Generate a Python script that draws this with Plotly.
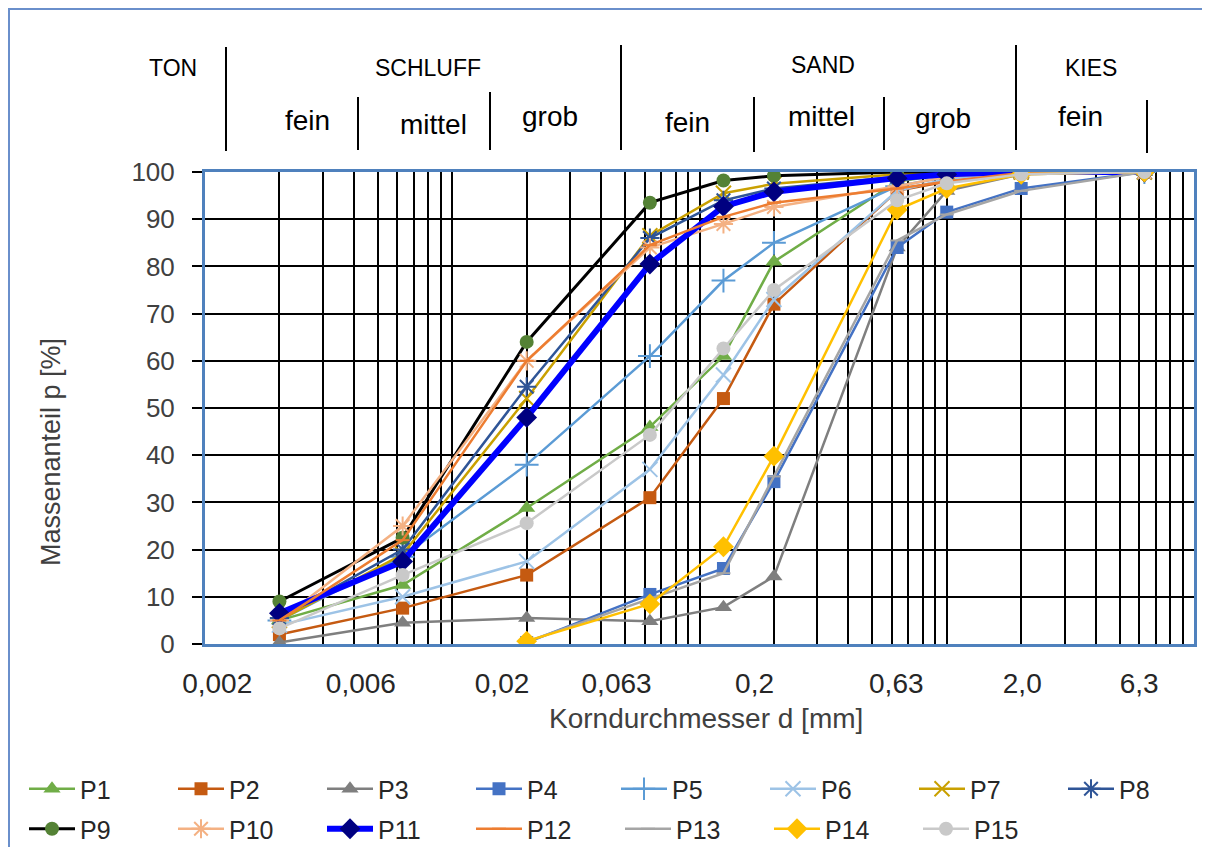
import plotly.graph_objects as go

# ---------------- data ----------------
diameters = [0.002, 0.0063, 0.02, 0.063, 0.125, 0.2, 0.63, 1.0, 2.0, 6.3]

P1 = [5.0, 12.5, 28.8, 46.0, 61.0, 81.0, 98.0, 99.5, 100, 100]
P2 = [2.0, 7.6, 14.6, 31.0, 52.0, 72.0, 96.0, 98.0, 100, 100]
P3 = [0.3, 4.5, 5.5, 4.8, 7.8, 14.3, 84.0, 96.0, 99.5, 100]
P4 = [None, None, 0.3, 10.5, 16.0, 34.4, 84.0, 91.5, 96.5, 100]
P5 = [5.0, 18.5, 38.0, 61.0, 77.0, 85.0, 97.0, 99.0, 100, 100]
P6 = [4.0, 10.0, 17.5, 37.0, 57.0, 73.0, 96.0, 98.5, 100, 100]
P7 = [5.0, 19.0, 52.0, 86.5, 95.5, 97.5, 99.5, 100, 100, 100]
P8 = [5.5, 20.0, 54.5, 86.0, 94.0, 96.5, 99.0, 100, 100, 100]
P9 = [9.0, 22.5, 64.0, 93.5, 98.2, 99.2, 100, 100, 100, 100]
P10 = [5.0, 25.0, 60.0, 84.0, 89.0, 92.6, 97.0, 99.0, 100, 100]
P11 = [6.5, 17.5, 48.0, 80.5, 92.7, 95.8, 98.7, 99.5, 100, 100]
P12 = [5.0, 22.0, 60.0, 84.5, 90.5, 93.5, 96.5, 98.0, 99.8, 100]
P13 = [None, None, 0.5, 9.5, 15.0, 35.5, 85.5, 91.0, 96.0, 100]
P14 = [None, None, 0.6, 8.5, 20.6, 39.8, 92.0, 96.5, 99.5, 100]
P15 = [3.3, 14.6, 25.6, 44.3, 62.6, 75.0, 94.0, 97.6, 99.5, 100]

series = [("P1", P1), ("P2", P2), ("P3", P3), ("P4", P4), ("P5", P5),
          ("P6", P6), ("P7", P7), ("P8", P8), ("P9", P9), ("P10", P10),
          ("P11", P11), ("P12", P12), ("P13", P13), ("P14", P14), ("P15", P15)]

x_tick_labels = ["0,002", "0,006", "0,02", "0,063", "0,2", "0,63", "2,0", "6,3"]
x_tick_label_at = [0.00112, 0.00427, 0.0159, 0.0462, 0.167, 0.625, 2.02, 6.0]
y_tick_values = [0, 10, 20, 30, 40, 50, 60, 70, 80, 90, 100]

header_main = ["TON", "SCHLUFF", "SAND", "KIES"]
header_sub = ["fein", "mittel", "grob", "fein", "mittel", "grob", "fein"]

# ---------------- styles ----------------
styles = {
    "P1":  dict(line="#70AD47", w=2.5, sym="triangle-up", mc="#70AD47", ms=15),
    "P2":  dict(line="#C55A11", w=2.5, sym="square", mc="#C55A11", ms=13),
    "P3":  dict(line="#7F7F7F", w=2.5, sym="triangle-up", mc="#7F7F7F", ms=15),
    "P4":  dict(line="#4472C4", w=2.5, sym="square", mc="#4472C4", ms=13),
    "P5":  dict(line="#5B9BD5", w=2.5, sym="cross-thin", mc="#5B9BD5", ms=17, open=True),
    "P6":  dict(line="#9DC3E6", w=2.5, sym="x-thin", mc="#9DC3E6", ms=15, open=True),
    "P7":  dict(line="#C9A000", w=2.5, sym="x-thin", mc="#C9A000", ms=15, open=True),
    "P8":  dict(line="#2F5597", w=2.5, sym="asterisk", mc="#2F5597", ms=16, open=True),
    "P9":  dict(line="#000000", w=3, sym="circle", mc="#548235", ms=14),
    "P10": dict(line="#F4B183", w=2.5, sym="asterisk", mc="#F4B183", ms=16, open=True),
    "P11": dict(line="#0000FF", w=6, sym="diamond", mc="#000080", ms=16),
    "P12": dict(line="#ED7D31", w=2.5, sym="line-ew", mc="#ED7D31", ms=10, open=True),
    "P13": dict(line="#A5A5A5", w=2.5, sym="line-ew", mc="#A5A5A5", ms=10, open=True),
    "P14": dict(line="#FFC000", w=2.5, sym="diamond", mc="#FFC000", ms=16),
    "P15": dict(line="#C9C9C9", w=2.5, sym="circle", mc="#C9C9C9", ms=14),
}
legend_of = {"P1": "legend", "P2": "legend", "P3": "legend", "P4": "legend",
             "P5": "legend3", "P6": "legend3", "P7": "legend3", "P8": "legend3"}

FONT = "Liberation Sans, Arial, sans-serif"
W, H = 1210, 847
OFF = 8  # page body margin
# plot area in screenshot pixels
L, R, T, B = 205, 1194, 172, 644


def px(x):
    return (x - L) / (R - L)


def py(y):
    return (B - y) / (B - T)


fig = go.Figure()
for name, vals in series:
    s = styles[name]
    if s.get("open"):
        marker = dict(symbol=s["sym"], size=s["ms"], color=s["mc"],
                      line=dict(color=s["mc"], width=2))
    else:
        marker = dict(symbol=s["sym"], size=s["ms"], color=s["mc"], line=dict(width=0))
    fig.add_trace(go.Scatter(
        x=diameters, y=vals, name=name, mode="lines+markers",
        line=dict(color=s["line"], width=s["w"]), marker=marker,
        legend=legend_of.get(name, "legend2"),
    ))

grid_vals = [k * 10.0 ** e for e in range(-3, 1) for k in range(1, 10)] + [10.0]

fig.update_xaxes(
    type="log", range=[-3, 1],
    tickmode="array", tickvals=x_tick_label_at, ticktext=x_tick_labels,
    ticks="", showgrid=False, zeroline=False,
    tickfont=dict(family=FONT, size=28, color="#262626"),
    ticklabelstandoff=12,
    minor=dict(tickmode="array", tickvals=grid_vals, showgrid=True,
               gridcolor="#000000", gridwidth=2, ticks=""),
    showline=True, mirror=True, linecolor="#4F81BD", linewidth=3,
    layer="below traces",
)
fig.update_yaxes(
    range=[0, 100], tickmode="array", tickvals=y_tick_values,
    showgrid=True, gridcolor="#000000", gridwidth=2, zeroline=False,
    ticks="outside", ticklen=10, tickwidth=2, tickcolor="#000000",
    tickfont=dict(family=FONT, size=26, color="#404040"),
    ticklabelstandoff=12,
    showline=True, mirror=True, linecolor="#4F81BD", linewidth=3,
    layer="below traces",
)


def ann(text, x, y, size, color="#000000", angle=0):
    return dict(text=text, x=px(x), y=py(y), xref="paper", yref="paper",
                xanchor="center", yanchor="middle", showarrow=False, textangle=angle,
                font=dict(family=FONT, size=size, color=color))


annotations = [
    ann("Korndurchmesser d [mm]", 706, 718, 28, "#404040"),
    ann("Massenanteil p [%]", 51, 452, 27, "#404040", -90),
]
main_pos = [(173, 68), (428, 68), (823, 65), (1091, 68)]
for txt, (hx, hy) in zip(header_main, main_pos):
    annotations.append(ann(txt, hx, hy, 23))
sub_pos = [(307, 121), (433, 124), (550, 117), (687, 122), (821, 116), (943, 118), (1080, 116)]
for txt, (hx, hy) in zip(header_sub, sub_pos):
    annotations.append(ann(txt, hx, hy, 28))

shapes = []
sep_lines = [(226, 47, 151), (358, 97, 150), (490, 92, 150), (621, 45, 150),
             (754, 97, 152), (884, 97, 150), (1016, 45, 150), (1147, 100, 153)]
for sx, y0, y1 in sep_lines:
    shapes.append(dict(type="line", xref="paper", yref="paper",
                       x0=px(sx), x1=px(sx), y0=py(y0), y1=py(y1),
                       line=dict(color="#000000", width=2)))
# outer chart border
shapes.append(dict(type="rect", xref="paper", yref="paper",
                   x0=px(9), x1=px(1205), y0=py(900), y1=py(9),
                   line=dict(color="#6A8FCB", width=2), fillcolor="rgba(0,0,0,0)",
                   layer="below"))

legend_common = dict(orientation="h", xanchor="left", yanchor="middle",
                     entrywidth=88, entrywidthmode="pixels", itemwidth=46,
                     font=dict(family=FONT, size=25, color="#262626"),
                     tracegroupgap=0, bgcolor="rgba(0,0,0,0)")

fig.update_layout(
    width=W, height=H,
    margin=dict(l=L - OFF, r=W - (R - OFF), t=T - OFF, b=H - (B - OFF), pad=0,
                autoexpand=False),
    paper_bgcolor="white", plot_bgcolor="white",
    font=dict(family=FONT, color="#262626"),
    annotations=annotations, shapes=shapes,
    legend=dict(x=px(24), y=py(789), **legend_common),
    legend3=dict(x=px(24 + 4 * 148), y=py(789), **legend_common),
    legend2=dict(x=px(24), y=py(829), **legend_common),
    showlegend=True,
)

fig.write_html("out.html")
